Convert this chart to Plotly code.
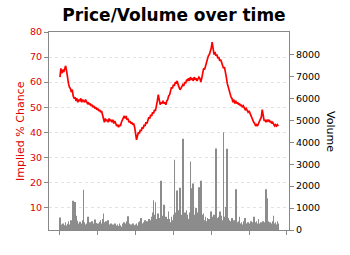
import numpy as np
import plotly.graph_objects as go

price = [
    62.0, 65.5, 63.5, 65.0, 64.0, 66.0, 66.5, 64.5, 61.0, 59.5,
    58.0, 57.5, 56.0, 57.0, 54.5, 53.5, 54.0, 52.5, 53.5, 52.0,
    53.0, 52.5, 53.5, 52.0, 53.0, 52.5, 52.0, 53.0, 52.5, 51.5,
    52.0, 51.0, 51.5, 50.5, 51.0, 50.0, 50.5, 49.5, 50.0, 49.0,
    49.5, 48.5, 49.0, 48.0, 48.5, 47.0, 45.5, 44.0, 45.5, 44.5,
    45.0, 44.0, 45.5, 44.5, 45.0, 44.0, 45.0, 43.5, 44.5, 43.0,
    42.5, 43.0, 42.0, 43.0, 42.5, 44.0, 45.0, 46.0, 46.5, 45.5,
    46.5, 45.0, 45.5, 44.0, 44.5, 43.5, 44.0, 43.0, 43.5, 42.0,
    39.0, 37.0, 38.5, 40.0, 39.5, 41.0, 40.5, 42.0, 41.5, 43.0,
    42.5, 44.0, 43.5, 45.0, 46.0, 45.5, 47.0, 46.5, 48.0, 47.5,
    49.0, 48.5, 50.0, 52.5, 55.0, 52.0, 51.0, 52.0, 51.5, 52.5,
    51.5, 52.0, 51.0, 52.5, 53.0, 54.5, 55.0, 56.5, 58.0, 57.5,
    59.0, 58.5, 60.0, 59.5, 60.5, 59.0, 58.0, 57.0, 57.5, 58.5,
    59.0, 58.5, 60.0, 59.5, 61.0, 60.5, 61.5, 60.5, 62.0, 61.0,
    61.5, 60.5, 62.0, 61.0, 61.5, 60.5, 61.0, 62.0, 61.5, 60.0,
    61.5, 64.0, 65.5, 65.0, 66.5, 67.0, 69.0, 70.5, 71.0, 72.0,
    73.5, 76.0, 72.5, 71.0, 72.0, 70.5, 71.0, 69.5, 70.0, 68.5,
    69.0, 67.5, 66.5, 65.5, 66.0, 64.5, 62.0, 59.5, 58.0, 56.0,
    55.0, 54.0, 53.5, 52.0, 53.0, 51.5, 52.5, 51.5, 52.0, 51.0,
    51.5, 50.5, 51.0, 50.0, 50.5, 49.5, 49.0, 49.5, 48.5, 48.0,
    48.5, 47.5, 47.0, 46.0, 45.0, 44.0, 43.5, 42.5, 43.0, 42.5,
    43.5, 44.5, 45.0, 46.0, 49.0, 45.5, 44.5, 45.0, 44.0, 45.0,
    44.5, 45.0, 44.0, 44.5, 43.5, 44.0, 43.5, 42.5, 43.0, 42.5,
    43.0, 42.5,
]

volume = [
    570, 250, 180, 300, 220, 150, 350, 200, 280, 400,
    250, 300, 450, 380, 1330, 600, 1280, 650, 420, 300,
    250, 380, 200, 300, 450, 1830, 350, 250, 300, 200,
    600, 280, 350, 220, 400, 300, 250, 480, 320, 200,
    300, 250, 380, 450, 300, 500, 750, 350, 280, 400,
    300, 450, 250, 200, 300, 180, 250, 220, 300, 150,
    200, 250, 180, 300, 220, 150, 280, 200, 350, 250,
    300, 400, 630, 300, 200, 250, 180, 300, 220, 150,
    250, 300, 200, 350, 280, 400, 550, 300, 250, 350,
    450, 300, 400, 350, 500, 300, 450, 600, 800, 1360,
    700, 1260, 500, 600, 750, 400, 550, 2250, 500, 650,
    1150, 450, 600, 500, 400, 840, 500, 350, 600, 450,
    700, 3200, 550, 800, 1800, 600, 900, 1930, 700, 500,
    4160, 650, 800, 550, 900, 700, 500, 800, 3120, 1900,
    600, 2120, 700, 500, 1000, 650, 800, 1950, 600, 2250,
    700, 500, 750, 450, 600, 400, 550, 350, 500, 450,
    840, 600, 500, 700, 450, 3720, 550, 400, 600, 840,
    500, 650, 450, 4460, 600, 1050, 500, 3700, 550, 450,
    400, 350, 550, 300, 450, 400, 1860, 350, 300, 400,
    600, 300, 350, 250, 400, 300, 550, 250, 300, 350,
    250, 300, 400, 350, 300, 600, 350, 250, 400, 300,
    500, 300, 250, 350, 300, 400, 250, 350, 1860, 1450,
    400, 300, 350, 250, 300, 400, 650, 300, 350, 250,
    400, 300,
]

t = np.arange(len(price))
x_ticks = [0, 40, 80, 120, 160, 200, 240]
price_ticks = [10, 20, 30, 40, 50, 60, 70, 80]
volume_ticks = [0, 1000, 2000, 3000, 4000, 5000, 6000, 7000, 8000]

FONT = "DejaVu Sans"
RED = "#dd0000"
AX = "#888888"

fig = go.Figure()
fig.add_trace(go.Scatter(x=t, y=price, mode="lines",
                         line=dict(color="#ff0000", width=1.7),
                         yaxis="y", showlegend=False))
fig.add_trace(go.Bar(x=t, y=volume, marker=dict(color="#8c8c8c", line=dict(width=0)),
                     yaxis="y2", showlegend=False))

fig.update_layout(
    width=350, height=255,
    margin=dict(l=49, r=61, t=32, b=25),
    paper_bgcolor="white", plot_bgcolor="white",
    bargap=0.3,
    title=dict(text="<b>Price/Volume over time</b>", x=174/350, xref="container",
               xanchor="center", y=1 - 15/255, yref="container", yanchor="middle",
               font=dict(family=FONT, size=17, color="black")),
    xaxis=dict(range=[-11.6, 242.3], tickvals=x_ticks, showticklabels=False,
               ticks="outside", ticklen=4, tickcolor=AX, showgrid=False,
               showline=True, linecolor=AX, mirror=True, zeroline=False),
    yaxis=dict(range=[1, 80], tickvals=price_ticks, ticks="outside", ticklen=4,
               tickcolor=AX, tickfont=dict(family=FONT, size=9.5, color=RED),
               showline=True, linecolor=AX, showgrid=True, gridcolor="#e2e2e2",
               griddash="3px,3px", gridwidth=1, zeroline=False),
    yaxis2=dict(range=[0, 9030], tickvals=volume_ticks, overlaying="y", side="right",
                ticks="outside", ticklen=4, tickcolor=AX,
                tickfont=dict(family=FONT, size=9.5, color="black"),
                showline=True, linecolor=AX, showgrid=False, zeroline=False),
    annotations=[
        dict(text="Implied % Chance", xref="paper", yref="paper",
             x=(20 - 49) / 240, y=0.5, textangle=-90, showarrow=False,
             xanchor="center", yanchor="middle",
             font=dict(family=FONT, size=11, color=RED)),
        dict(text="Volume", xref="paper", yref="paper",
             x=(331 - 49) / 240, y=0.5, textangle=90, showarrow=False,
             xanchor="center", yanchor="middle",
             font=dict(family=FONT, size=11, color="black")),
    ],
)

fig.write_html("out.html")
